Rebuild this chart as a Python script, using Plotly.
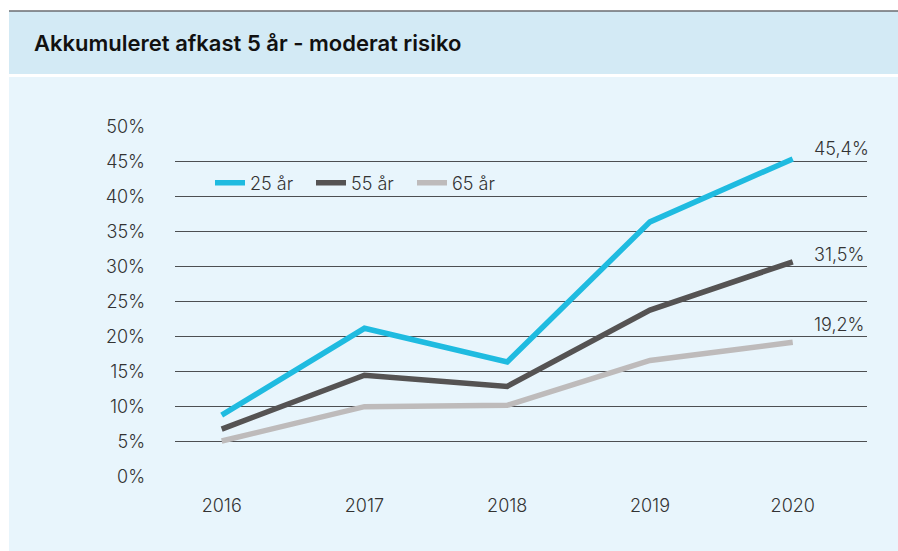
import plotly.graph_objects as go

W, H = 898, 551

years = [2016, 2017, 2018, 2019, 2020]
series_names = ["25 år", "55 år", "65 år"]
v25 = [8.8, 21.2, 16.4, 36.4, 45.4]
v55 = [6.8, 14.5, 12.9, 23.8, 30.7]
v65 = [5.1, 10.0, 10.2, 16.6, 19.2]
end_labels = ["45,4%", "31,5%", "19,2%"]
y_ticks = [0, 5, 10, 15, 20, 25, 30, 35, 40, 45, 50]
y_tick_labels = [f"{t}%" for t in y_ticks]
title_text = "Akkumuleret afkast 5 år - moderat risiko"

colors = ["#1fbbe0", "#555353", "#bebbbb"]
label_yshift = [10, 7, 18]

FONT = "Inter"
TXT = "#333333"
LIGHT = dict(family=FONT, size=18, color=TXT, weight=300)

fig = go.Figure()
for name, vals, col in zip(series_names, [v25, v55, v65], colors):
    fig.add_trace(go.Scatter(
        x=years, y=vals, name=name, mode="lines",
        line=dict(color=col, width=5.5),
        hoverinfo="skip",
    ))

for vals, lab, ys in zip([v25, v55, v65], end_labels, label_yshift):
    fig.add_annotation(
        x=years[-1], y=vals[-1], text=lab, showarrow=False,
        xanchor="left", yanchor="middle", xshift=19, yshift=ys,
        font=LIGHT,
    )

x0p, x1p = 175, 866.7
y0p, y1p = 126.7, 476.7

fig.update_layout(
    width=W, height=H,
    margin=dict(l=0, r=0, t=0, b=0, autoexpand=False),
    paper_bgcolor="white",
    plot_bgcolor="rgba(0,0,0,0)",
    font=LIGHT,
    xaxis=dict(
        domain=[x0p / W, x1p / W],
        range=[2015.673, 2020.518],
        tickmode="array", tickvals=years, ticktext=[str(y) for y in years],
        showgrid=False, zeroline=False, showline=False,
        ticks="", ticklabelstandoff=16, automargin=False,
        tickfont=LIGHT,
        fixedrange=True,
    ),
    yaxis=dict(
        domain=[(H - y1p) / H, (H - y0p) / H],
        range=[0, 50],
        tickmode="array", tickvals=y_ticks, ticktext=y_tick_labels,
        showgrid=True, gridcolor="#4d4f52", gridwidth=1.3,
        zeroline=False, showline=False,
        ticks="", ticklabelstandoff=29, automargin=False,
        tickfont=LIGHT,
        fixedrange=True,
    ),
    legend=dict(
        orientation="h", x=210 / W, y=(H - 183) / H,
        xanchor="left", yanchor="middle",
        bgcolor="rgba(0,0,0,0)", borderwidth=0,
        font=LIGHT,
        entrywidth=56, entrywidthmode="pixels",
        traceorder="normal",
    ),
    showlegend=True,
)

shapes = [
    dict(type="rect", xref="paper", yref="paper", x0=9 / W, x1=1, y0=(H - 74) / H, y1=(H - 11) / H,
         fillcolor="#d3eaf5", line=dict(width=0), layer="below"),
    dict(type="line", xref="paper", yref="paper", x0=9 / W, x1=1, y0=(H - 11) / H, y1=(H - 11) / H,
         line=dict(color="#6b6d70", width=1.6), layer="below"),
    dict(type="rect", xref="paper", yref="paper", x0=9 / W, x1=1, y0=0, y1=(H - 77) / H,
         fillcolor="#e8f5fc", line=dict(width=0), layer="below"),
]
fig.update_layout(shapes=shapes)

fig.add_annotation(
    xref="paper", yref="paper", x=32 / W, y=(H - 43) / H,
    text=title_text, showarrow=False,
    xanchor="left", yanchor="middle",
    font=dict(family=FONT, size=22, color="#111111", weight=600),
)

fig.write_html(
    "out.html",
    config=dict(displayModeBar=False),
    post_script="document.body.style.margin='0px';document.body.style.overflow='hidden';",
)
